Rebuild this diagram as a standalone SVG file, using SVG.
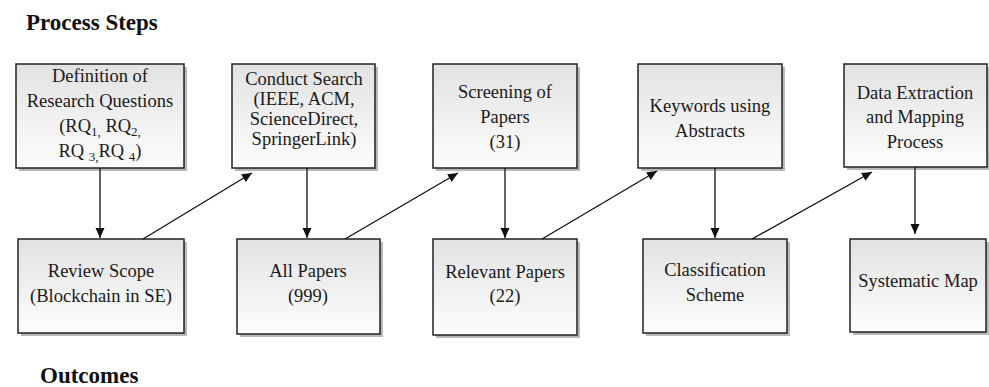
<svg xmlns="http://www.w3.org/2000/svg" width="989" height="387" viewBox="0 0 989 387">
<defs>
<linearGradient id="g" x1="0" y1="0" x2="0" y2="1">
<stop offset="0" stop-color="#e2e2e2"/>
<stop offset="1" stop-color="#fdfdfd"/>
</linearGradient>
<marker id="ah" viewBox="0 0 10 10" refX="10" refY="5" markerWidth="10" markerHeight="10" markerUnits="userSpaceOnUse" orient="auto">
<path d="M0,0.5 L10,5 L0,9.5 Z" fill="#111"/>
</marker>
</defs>
<style>
.box{fill:url(#g);stroke:#222;stroke-width:1.5}
.sh{fill:#b8b8b8}
text{font-family:"Liberation Serif","Times New Roman",serif;font-size:18.5px;fill:#1a1a1a;text-anchor:middle}
.title{font-size:23px;font-weight:bold;text-anchor:start;fill:#111}
.sub{font-size:13px}
.con line{stroke:#111;stroke-width:1.3;marker-end:url(#ah)}
</style>
<rect width="989" height="387" fill="#fff"/>
<text class="title" x="26" y="30">Process Steps</text>
<text class="title" x="40" y="383">Outcomes</text>

<g id="n1">
<rect class="sh" x="19" y="67" width="168" height="104"/>
<rect class="box" x="16" y="64" width="168" height="104"/>
<text x="100" y="82">Definition of</text>
<text x="100" y="107">Research Questions</text>
<text x="100" y="132">(RQ<tspan class="sub" dy="4">1,</tspan><tspan dy="-4"> RQ</tspan><tspan class="sub" dy="4">2,</tspan></text>
<text x="100" y="157">RQ <tspan class="sub" dy="4">3,</tspan><tspan dy="-4">RQ </tspan><tspan class="sub" dy="4">4</tspan><tspan dy="-4">)</tspan></text>
</g>
<g id="n2">
<rect class="sh" x="235" y="67" width="143" height="104"/>
<rect class="box" x="232" y="64" width="143" height="104"/>
<text x="304" y="85">Conduct Search</text>
<text x="304" y="105">(IEEE, ACM,</text>
<text x="304" y="125">ScienceDirect,</text>
<text x="304" y="145">SpringerLink)</text>
</g>
<g id="n3">
<rect class="sh" x="436" y="67" width="144" height="104"/>
<rect class="box" x="433" y="64" width="144" height="104"/>
<text x="505" y="98">Screening of</text>
<text x="505" y="123">Papers</text>
<text x="505" y="148">(31)</text>
</g>
<g id="n4">
<rect class="sh" x="641" y="67" width="144" height="104"/>
<rect class="box" x="638" y="64" width="144" height="104"/>
<text x="710" y="112">Keywords using</text>
<text x="710" y="137">Abstracts</text>
</g>
<g id="n5">
<rect class="sh" x="847" y="67" width="143" height="103"/>
<rect class="box" x="844" y="64" width="143" height="103"/>
<text x="915" y="99">Data Extraction</text>
<text x="915" y="123">and Mapping</text>
<text x="915" y="148">Process</text>
</g>

<g id="o1">
<rect class="sh" x="21" y="242" width="166" height="94"/>
<rect class="box" x="18" y="239" width="166" height="94"/>
<text x="101" y="277">Review Scope</text>
<text x="101" y="302">(Blockchain in SE)</text>
</g>
<g id="o2">
<rect class="sh" x="240" y="242" width="143" height="95"/>
<rect class="box" x="237" y="239" width="143" height="95"/>
<text x="308" y="277">All Papers</text>
<text x="308" y="302">(999)</text>
</g>
<g id="o3">
<rect class="sh" x="436" y="242" width="144" height="96"/>
<rect class="box" x="433" y="239" width="144" height="96"/>
<text x="505" y="278">Relevant Papers</text>
<text x="505" y="302">(22)</text>
</g>
<g id="o4">
<rect class="sh" x="646" y="242" width="144" height="94"/>
<rect class="box" x="643" y="239" width="144" height="94"/>
<text x="715" y="276">Classification</text>
<text x="715" y="301">Scheme</text>
</g>
<g id="o5">
<rect class="sh" x="853" y="242" width="136" height="93"/>
<rect class="box" x="850" y="239" width="136" height="93"/>
<text x="918" y="287">Systematic Map</text>
</g>

<g id="connectors" class="con">
<line x1="100" y1="168" x2="100" y2="238"/>
<line x1="307" y1="168" x2="307" y2="238"/>
<line x1="505" y1="168" x2="505" y2="238"/>
<line x1="715" y1="168" x2="715" y2="238"/>
<line x1="915" y1="167" x2="915" y2="234"/>
<line x1="143" y1="239" x2="252" y2="173"/>
<line x1="345" y1="239" x2="458" y2="173"/>
<line x1="542" y1="239" x2="657" y2="171"/>
<line x1="752" y1="239" x2="872" y2="172"/>
</g>
</svg>
